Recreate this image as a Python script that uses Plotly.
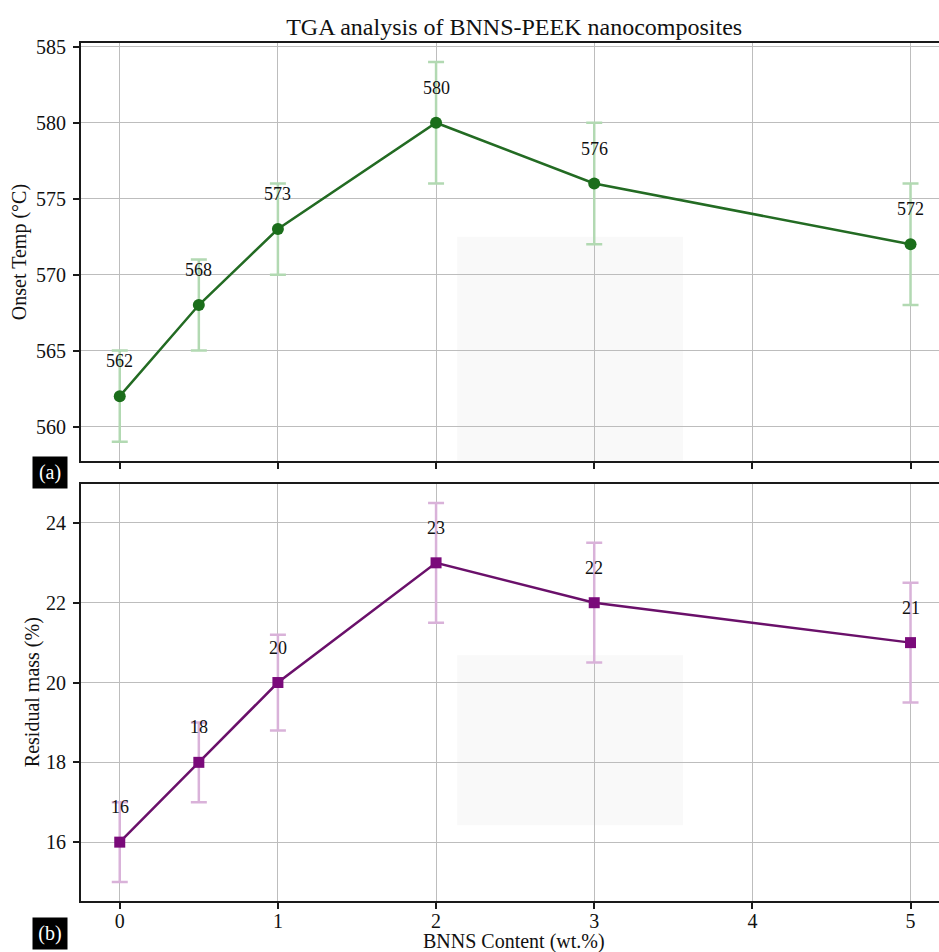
import plotly.graph_objects as go

# BNNS loading (wt.%)
content = [0, 0.5, 1, 2, 3, 5]

# Onset decomposition temperature (°C) and its spread
onset_temp = [562, 568, 573, 580, 576, 572]
onset_err = [3, 3, 3, 4, 4, 4]

# Residual mass at end of run (%) and its spread
residual_mass = [16, 18, 20, 23, 22, 21]
residual_err = [1, 1, 1.2, 1.5, 1.5, 1.5]

x_ticks = [0, 1, 2, 3, 4, 5]
temp_ticks = [560, 565, 570, 575, 580, 585]
mass_ticks = [16, 18, 20, 22, 24]

FONT = "Liberation Serif, Times New Roman, serif"
W, H = 939, 952
ML, MR, MT, MB = 80.7, 0, 43.3, 51.3
PW, PH = W - ML - MR, H - MT - MB


def px_x(px):
    return (px - ML) / PW


def px_y(py):
    return (H - MB - py) / PH


GREEN_LINE = "#236b23"
GREEN_MARK = "#1b6e1b"
GREEN_ERR = "#b2d9b2"
PURPLE_LINE = "#6a106a"
PURPLE_MARK = "#7a0a7a"
PURPLE_ERR = "#d9b2d9"

fig = go.Figure()

fig.add_trace(go.Scatter(
    x=content, y=onset_temp, mode="lines+markers",
    line=dict(color=GREEN_LINE, width=2.5),
    marker=dict(symbol="circle", size=12, color=GREEN_MARK),
    error_y=dict(type="data", array=onset_err, visible=True,
                 color=GREEN_ERR, thickness=2.5, width=8),
    xaxis="x", yaxis="y", showlegend=False,
))

fig.add_trace(go.Scatter(
    x=content, y=residual_mass, mode="lines+markers",
    line=dict(color=PURPLE_LINE, width=2.5),
    marker=dict(symbol="square", size=11, color=PURPLE_MARK),
    error_y=dict(type="data", array=residual_err, visible=True,
                 color=PURPLE_ERR, thickness=2.5, width=8),
    xaxis="x2", yaxis="y2", showlegend=False,
))

annotations = []
for xv, yv in zip(content, onset_temp):
    annotations.append(dict(x=xv, y=yv, xref="x", yref="y", text=f"{yv}",
                            showarrow=False, yshift=35,
                            font=dict(family=FONT, size=18, color="#111111")))
for xv, yv in zip(content, residual_mass):
    annotations.append(dict(x=xv, y=yv, xref="x2", yref="y2", text=f"{yv}",
                            showarrow=False, yshift=35,
                            font=dict(family=FONT, size=18, color="#111111")))

# Axis titles
annotations.append(dict(x=px_x(514), y=px_y(941), xref="paper", yref="paper",
                        text="BNNS Content (wt.%)", showarrow=False,
                        xanchor="center", yanchor="middle",
                        font=dict(family=FONT, size=20, color="#111111")))
annotations.append(dict(x=px_x(20), y=px_y(252), xref="paper", yref="paper",
                        text="Onset Temp (°C)", showarrow=False, textangle=-90,
                        xanchor="center", yanchor="middle",
                        font=dict(family=FONT, size=20, color="#111111")))
annotations.append(dict(x=px_x(31.7), y=px_y(692), xref="paper", yref="paper",
                        text="Residual mass (%)", showarrow=False, textangle=-90,
                        xanchor="center", yanchor="middle",
                        font=dict(family=FONT, size=20, color="#111111")))

# Panel tags
for tag, cy in (("(a)", 472.5), ("(b)", 933.5)):
    annotations.append(dict(x=px_x(50), y=px_y(cy), xref="paper", yref="paper",
                            text=tag, showarrow=False, xanchor="center",
                            yanchor="middle", bgcolor="black", width=34,
                            height=31, borderpad=0,
                            font=dict(family=FONT, size=20, color="white")))

# Faint shaded patches behind the grid
shapes = [
    dict(type="rect", xref="paper", yref="paper",
         x0=px_x(457), x1=px_x(683), y0=px_y(460.7), y1=px_y(237),
         fillcolor="#f9f9f9", line=dict(width=0), layer="below"),
    dict(type="rect", xref="paper", yref="paper",
         x0=px_x(457), x1=px_x(683), y0=px_y(825), y1=px_y(655),
         fillcolor="#f9f9f9", line=dict(width=0), layer="below"),
]

x_range = [-0.245, 5.18]
common_x = dict(range=x_range, tickvals=x_ticks, showgrid=True,
                gridcolor="#bdbdbd", gridwidth=1.3, zeroline=False,
                showline=True, linecolor="#1a1a1a", linewidth=2, mirror=True,
                ticks="outside", ticklen=6, tickwidth=1.5, tickcolor="#1a1a1a",
                tickfont=dict(family=FONT, size=20, color="#111111"))
common_y = dict(showgrid=True, gridcolor="#bdbdbd", gridwidth=1.3,
                zeroline=False, showline=True, linecolor="#1a1a1a",
                linewidth=1.8, ticks="outside", ticklen=6, tickwidth=1.5,
                tickcolor="#1a1a1a", ticklabelstandoff=3,
                tickfont=dict(family=FONT, size=20, color="#111111"))

fig.update_layout(
    width=W, height=H,
    margin=dict(l=ML, r=MR, t=MT, b=MB),
    paper_bgcolor="white", plot_bgcolor="rgba(0,0,0,0)",
    title=dict(text="TGA analysis of BNNS-PEEK nanocomposites",
               x=px_x(514), xref="paper", xanchor="center",
               y=1 - 27 / H, yref="container", yanchor="middle",
               font=dict(family=FONT, size=24, color="#111111")),
    xaxis=dict(**common_x, domain=[0, 1], anchor="y", showticklabels=False),
    yaxis=dict(**common_y, domain=[px_y(460.7), 1], anchor="x",
               range=[557.75, 585.25], tickvals=temp_ticks),
    xaxis2=dict(**common_x, domain=[0, 1], anchor="y2", showticklabels=True,
                ticklabelstandoff=-5),
    yaxis2=dict(**common_y, domain=[0, px_y(484)], anchor="x2",
                range=[14.525, 24.975], tickvals=mass_ticks),
    annotations=annotations,
    shapes=shapes,
)

fig.write_html("out.html")
